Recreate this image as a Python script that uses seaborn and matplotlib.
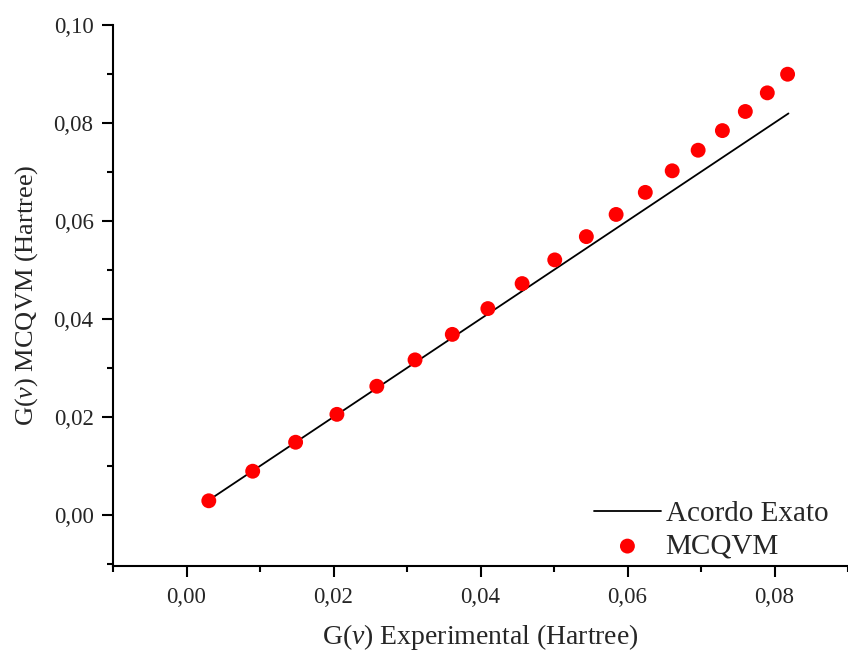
import matplotlib
matplotlib.use("Agg")
import matplotlib.pyplot as plt
import seaborn as sns
from matplotlib.ticker import FuncFormatter, MultipleLocator

g_exp = [0.00303, 0.00900, 0.01484, 0.02046, 0.02589, 0.03109, 0.03616, 0.04100,
         0.04566, 0.05010, 0.05440, 0.05845, 0.06242, 0.06608, 0.06961, 0.07291,
         0.07603, 0.07902, 0.08178]
g_mcqvm = [0.00290, 0.00893, 0.01484, 0.02053, 0.02626, 0.03164, 0.03684, 0.04210,
           0.04720, 0.05203, 0.05678, 0.06130, 0.06580, 0.07020, 0.07440, 0.07840,
           0.08230, 0.08610, 0.08990]
exact_x = [0.00303, 0.08190]
exact_y = [0.00303, 0.08190]

sns.set_theme(style="ticks")
plt.rcParams['font.family'] = ['Liberation Serif', 'DejaVu Serif']
plt.rcParams['mathtext.fontset'] = 'custom'
plt.rcParams['mathtext.rm'] = 'Liberation Serif'
plt.rcParams['mathtext.it'] = 'Liberation Serif:italic'

fig = plt.figure(figsize=(8.48, 6.55), dpi=100)
ax = fig.add_axes([0.1333, (655 - 566) / 655, 0.8667, (566 - 24.7) / 655])

sns.lineplot(x=exact_x, y=exact_y, ax=ax, color='black', lw=1.3, label='Acordo Exato')
sns.scatterplot(x=g_exp, y=g_mcqvm, ax=ax, color='#ff0000', s=115, edgecolor='none',
                label='MCQVM', zorder=3)

ax.set_xlim(-0.01, 0.09)
ax.set_ylim(-0.0104, 0.10)
ax.xaxis.set_major_locator(MultipleLocator(0.02))
ax.xaxis.set_minor_locator(MultipleLocator(0.01))
ax.yaxis.set_major_locator(MultipleLocator(0.02))
ax.yaxis.set_minor_locator(MultipleLocator(0.01))
fmt = FuncFormatter(lambda v, p: f"{v:.2f}".replace('.', ','))
ax.xaxis.set_major_formatter(fmt)
ax.yaxis.set_major_formatter(fmt)

ax.tick_params(which='major', direction='out', length=8, width=1.5, labelsize=16.5, color='black')
ax.tick_params(axis='y', which='major', pad=6)
ax.tick_params(axis='x', which='major', pad=7)
ax.tick_params(which='minor', direction='out', length=4, width=1.5, color='black')
for s in ['top', 'right']:
    ax.spines[s].set_visible(False)
for s in ['left', 'bottom']:
    ax.spines[s].set_linewidth(1.5)
    ax.spines[s].set_color('black')

ax.set_xlabel(r'G($\it{v}$) Experimental (Hartree)', fontsize=20, labelpad=10)
ax.set_ylabel(r'G($\it{v}$) MCQVM (Hartree)', fontsize=19, labelpad=10)

leg = ax.legend(loc='lower right', frameon=False, fontsize=21, handlelength=2.3,
                borderaxespad=0.0, labelspacing=0.22, handletextpad=0.16,
                bbox_to_anchor=(0.989, -0.010))

fig.savefig('out.png', dpi=100)
